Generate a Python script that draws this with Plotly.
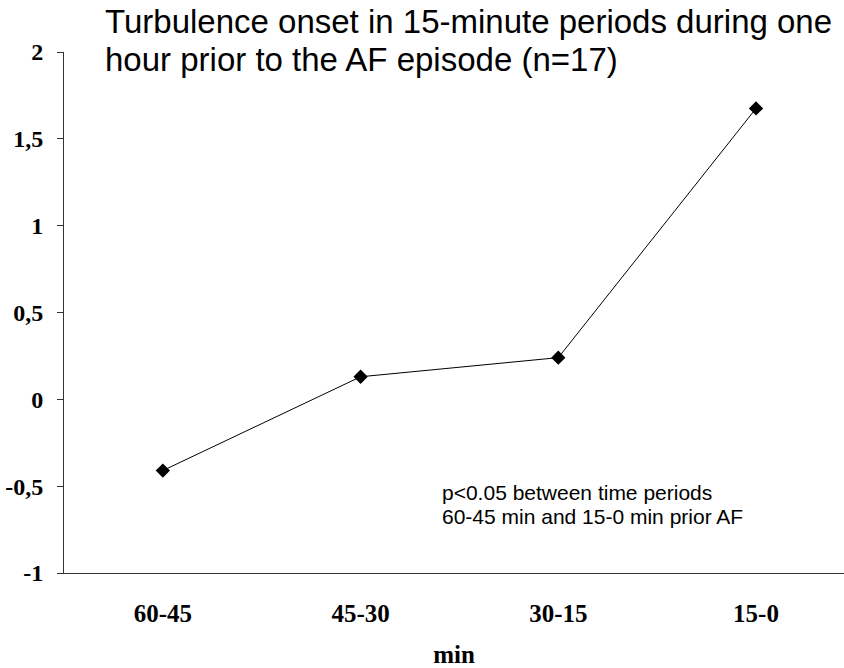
import plotly.graph_objects as go

categories = ["60-45", "45-30", "30-15", "15-0"]
values = [-0.41, 0.13, 0.24, 1.675]
y_tickvals = [-1, -0.5, 0, 0.5, 1, 1.5, 2]
y_ticktext = ["-1", "-0,5", "0", "0,5", "1", "1,5", "2"]
title_lines = ["Turbulence onset in 15-minute periods during one",
               "hour prior to the AF episode (n=17)"]
note_lines = ["p<0.05 between time periods",
              "60-45 min and 15-0 min prior AF"]
x_title = "min"

fig = go.Figure()
fig.add_trace(go.Scatter(
    x=list(range(len(categories))), y=values, mode="lines+markers",
    line=dict(color="black", width=1),
    marker=dict(symbol="diamond", size=11, color="black"),
    showlegend=False, cliponaxis=False,
))

serif = "Liberation Serif, Times New Roman, serif"
sans = "Liberation Sans, Arial, sans-serif"

fig.update_layout(
    width=844, height=668,
    margin=dict(l=64, r=0, t=52, b=95),
    plot_bgcolor="white", paper_bgcolor="white",
    xaxis=dict(
        range=[-0.5, 3.445], tickvals=list(range(len(categories))),
        ticktext=["<b>" + c + "</b>" for c in categories],
        showgrid=False, zeroline=False, showline=True, linecolor="#333", linewidth=1,
        ticks="", ticklabelstandoff=18,
        tickfont=dict(family=serif, size=25, color="black"),
        title=dict(text="<b>" + x_title + "</b>", font=dict(family=serif, size=25, color="black"), standoff=22),
    ),
    yaxis=dict(
        range=[-1, 2], tickvals=y_tickvals, ticktext=["<b>" + t + "</b>" for t in y_ticktext],
        showgrid=False, zeroline=False, showline=True, linecolor="#333", linewidth=1,
        ticks="outside", ticklen=6, tickcolor="#333", ticklabelstandoff=9,
        tickfont=dict(family=serif, size=24, color="black"),
    ),
)

for i, line in enumerate(title_lines):
    fig.add_annotation(text=line, xref="paper", yref="paper", x=(103 - 64) / 780, y=1 + (52 - (22 + 37 * i)) / 521,
                       xanchor="left", yanchor="middle", showarrow=False,
                       font=dict(family=sans, size=33, color="black"))
for i, line in enumerate(note_lines):
    fig.add_annotation(text=line, xref="paper", yref="paper", x=(440 - 64) / 780, y=(573 - (492 + 24 * i)) / 521,
                       xanchor="left", yanchor="middle", showarrow=False,
                       font=dict(family=sans, size=21, color="black"))

fig.write_html("out.html")
